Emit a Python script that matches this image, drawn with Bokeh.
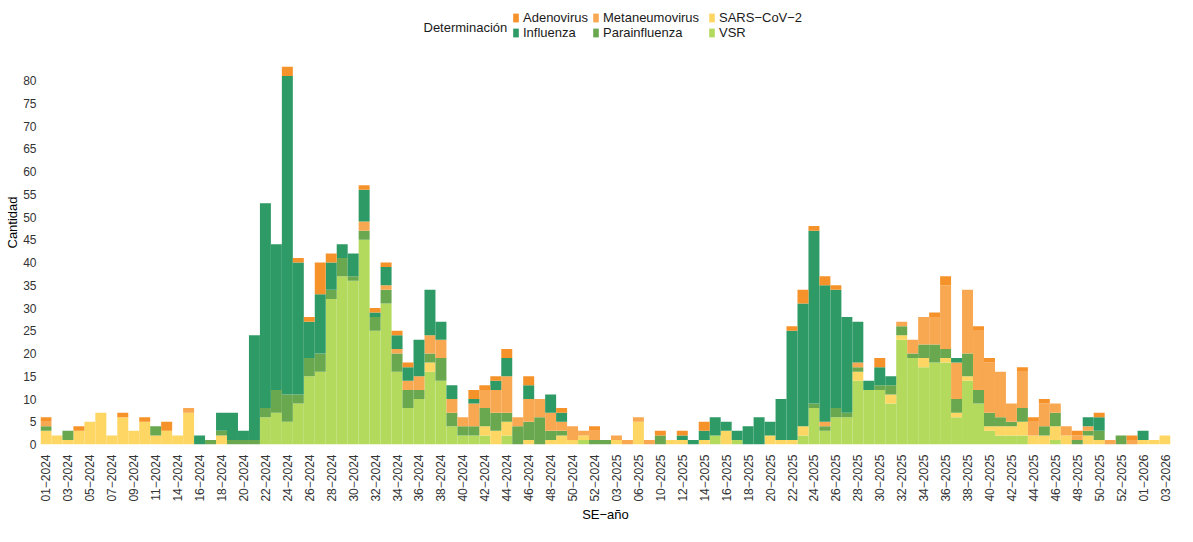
import math
from bokeh.plotting import figure
from bokeh.models import (ColumnDataSource, Legend, LegendItem, Label, FixedTicker,
                          CustomJSTickFormatter, Range1d)
from bokeh.embed import file_html
from bokeh.resources import INLINE

# ---- categories (SE-año) ----
semanas_2024 = [1, 2, 3, 4, 5, 6, 7, 8, 9, 10, 11, 12, 14, 15, 16, 17, 18, 19, 20, 21, 22, 23, 24,
                25, 26, 27, 28, 29, 30, 31, 32, 33, 34, 35, 36, 37, 38, 39, 40, 41, 42, 43, 44, 45,
                46, 47, 48, 49, 50, 51, 52]
semanas_2025 = [1, 3, 4, 6, 8, 10, 11, 12, 13, 14, 15, 16, 17, 18, 19, 20, 21, 22, 23, 24, 25, 26,
                27, 28, 29, 30, 31, 32, 33, 34, 35, 36, 37, 38, 39, 40, 41, 42, 43, 44, 45, 46, 47,
                48, 49, 50, 51, 52, 53]
semanas_2026 = [1, 2, 3]
categorias = ([f"{w:02d}\u22122024" for w in semanas_2024] +
              [f"{w:02d}\u22122025" for w in semanas_2025] +
              [f"{w:02d}\u22122026" for w in semanas_2026])

y_ticks = [0, 5, 10, 15, 20, 25, 30, 35, 40, 45, 50, 55, 60, 65, 70, 75, 80]

# ---- series values ----
vsr = [0, 0, 0, 0, 0, 0, 0, 0, 0, 0,
       0, 0, 0, 0, 0, 0, 0, 0, 0, 0,
       6, 7, 5, 9, 15, 16, 32, 37, 36, 45,
       25, 31, 16, 8, 10, 16, 14, 4, 2, 2,
       2, 0, 2, 0, 0, 0, 0, 0, 0, 1,
       0, 0, 0, 0, 0, 0, 0, 0, 0, 0,
       0, 2, 0, 1, 0, 0, 0, 0, 0, 2,
       8, 3, 6, 6, 14, 12, 12, 9, 23, 19,
       17, 18, 18, 6, 14, 9, 3, 2, 2, 2,
       0, 0, 1, 0, 0, 0, 0, 0, 0, 0,
       0, 0, 0]
sars = [3, 2, 1, 3, 5, 7, 2, 6, 3, 5,
        2, 3, 2, 7, 0, 0, 2, 0, 0, 0,
        0, 0, 0, 0, 0, 0, 0, 0, 0, 0,
        0, 0, 0, 0, 0, 2, 0, 0, 0, 0,
        2, 3, 3, 0, 1, 0, 1, 2, 1, 1,
        0, 0, 1, 0, 5, 0, 0, 1, 1, 0,
        1, 0, 3, 0, 0, 0, 2, 1, 1, 2,
        0, 0, 0, 0, 2, 0, 0, 2, 1, 0,
        2, 0, 1, 1, 1, 0, 1, 2, 2, 3,
        2, 2, 3, 2, 0, 2, 1, 0, 0, 0,
        1, 1, 2]
parainfluenza = [1, 0, 2, 0, 0, 0, 0, 0, 0, 0,
                 2, 0, 0, 0, 0, 1, 1, 1, 1, 1,
                 2, 5, 6, 2, 4, 4, 2, 4, 1, 2,
                 3, 3, 4, 4, 2, 2, 5, 3, 2, 2,
                 4, 4, 2, 4, 4, 6, 2, 1, 0, 0,
                 1, 1, 0, 0, 0, 0, 2, 0, 0, 0,
                 0, 0, 0, 0, 0, 0, 0, 0, 0, 0,
                 1, 1, 2, 1, 1, 0, 1, 2, 2, 1,
                 3, 4, 2, 3, 5, 3, 3, 2, 1, 3,
                 0, 2, 3, 0, 1, 1, 2, 0, 2, 0,
                 0, 0, 0]
metaneumovirus = [1, 0, 0, 0, 0, 0, 0, 0, 0, 0,
                  0, 0, 0, 1, 0, 0, 0, 0, 0, 0,
                  0, 0, 0, 0, 0, 0, 0, 0, 0, 2,
                  0, 1, 1, 2, 3, 4, 4, 3, 2, 5,
                  4, 5, 8, 2, 5, 4, 4, 2, 3, 1,
                  2, 0, 1, 1, 1, 1, 0, 0, 0, 0,
                  0, 0, 0, 0, 0, 0, 0, 0, 0, 0,
                  0, 1, 0, 0, 1, 0, 0, 0, 1, 3,
                  6, 6, 14, 8, 14, 13, 11, 10, 4, 8,
                  3, 5, 2, 2, 1, 1, 0, 1, 0, 1,
                  0, 0, 0]
influenza = [0, 0, 0, 0, 0, 0, 0, 0, 0, 0,
             0, 0, 0, 0, 2, 0, 4, 6, 2, 23,
             45, 32, 70, 29, 8, 13, 6, 3, 5, 7,
             1, 4, 3, 3, 8, 10, 4, 3, 0, 1,
             0, 2, 4, 0, 3, 0, 4, 2, 0, 0,
             0, 0, 0, 0, 0, 0, 0, 0, 1, 1,
             2, 4, 2, 2, 4, 6, 3, 9, 24, 27,
             38, 30, 26, 21, 9, 2, 4, 2, 0, 0,
             0, 0, 0, 1, 0, 0, 0, 0, 0, 0,
             0, 0, 0, 0, 0, 2, 3, 0, 0, 0,
             2, 0, 0]
adenovirus = [1, 0, 0, 1, 0, 0, 0, 1, 0, 1,
              0, 2, 0, 0, 0, 0, 0, 0, 0, 0,
              0, 0, 2, 1, 1, 7, 2, 0, 0, 1,
              1, 1, 1, 1, 0, 0, 0, 0, 0, 2,
              1, 1, 2, 0, 2, 0, 0, 1, 0, 0,
              1, 0, 0, 0, 0, 0, 1, 0, 1, 0,
              2, 0, 0, 0, 0, 0, 0, 0, 1, 3,
              1, 2, 1, 0, 0, 0, 2, 0, 0, 0,
              0, 1, 2, 0, 0, 1, 1, 0, 0, 1,
              1, 1, 0, 0, 1, 0, 1, 0, 0, 1,
              0, 0, 0]

# stacking order bottom -> top
series_names = ["VSR", "SARS\u2212CoV\u22122", "Parainfluenza", "Metaneumovirus", "Influenza", "Adenovirus"]
series_values = [vsr, sars, parainfluenza, metaneumovirus, influenza, adenovirus]
series_colors = ["#B3DA5D", "#FED663", "#69A84F", "#F8A851", "#2E9A66", "#F6922A"]
legend_columns = [["Adenovirus", "Influenza"],
                  ["Metaneumovirus", "Parainfluenza"],
                  ["SARS\u2212CoV\u22122", "VSR"]]

n = len(categorias)
data = {"x": list(range(n))}
keys = [f"s{k}" for k in range(len(series_names))]
for k, vals in zip(keys, series_values):
    data[k] = vals
source = ColumnDataSource(data)

FONT = "Liberation Sans"
W, H = 1177, 526
B_LEFT, B_RIGHT, B_TOP, B_BOTTOM = 40, 7, 0, 82
FH = H - B_TOP - B_BOTTOM          # frame height (frame reaches the top so the legend is not clipped)
PX_PER_UNIT = (FH - 80) / 80.0     # value 80 sits at y = 80 px
Y_END = FH / PX_PER_UNIT

p = figure(width=W, height=H, output_backend="svg", toolbar_location=None,
           x_range=Range1d(-0.5, n - 0.5), y_range=Range1d(0, Y_END),
           min_border_left=B_LEFT, min_border_right=B_RIGHT,
           min_border_top=B_TOP, min_border_bottom=B_BOTTOM)
p.outline_line_color = None
p.xgrid.grid_line_color = None
p.ygrid.grid_line_color = None

renderers = p.vbar_stack(keys, x="x", width=1.0, source=source,
                         fill_color=series_colors, line_color=None)

# axes
p.xaxis.ticker = FixedTicker(ticks=list(range(0, n, 2)))
p.xaxis.formatter = CustomJSTickFormatter(args=dict(etiquetas=categorias),
                                          code="const i = Math.round(tick); return etiquetas[i] || '';")
p.xaxis.major_label_orientation = math.pi / 2
p.yaxis.ticker = FixedTicker(ticks=y_ticks)
p.xaxis.axis_label = "SE\u2212año"
p.yaxis.axis_label = "Cantidad"
for ax in (p.xaxis[0], p.yaxis[0]):
    ax.axis_line_color = None
    ax.major_tick_line_color = None
    ax.minor_tick_line_color = None
    ax.major_tick_out = 0
    ax.major_tick_in = 0
    ax.minor_tick_out = 0
    ax.minor_tick_in = 0
    ax.major_label_text_font = FONT
    ax.major_label_text_font_size = "12px"
    ax.major_label_text_color = "#333333"
    ax.axis_label_text_font = FONT
    ax.axis_label_text_font_size = "13px"
    ax.axis_label_text_font_style = "normal"
    ax.axis_label_text_color = "#000000"
p.xaxis.major_label_standoff = 10
p.xaxis.axis_label_standoff = 2
p.yaxis.major_label_standoff = 4
p.yaxis.axis_label_standoff = 0

# legend: one small legend per column (inside the tall frame, above the bars)
name_to_r = dict(zip(series_names, renderers))
col_x = [472, 552, 668]
for cx, col in zip(col_x, legend_columns):
    lg = Legend(items=[LegendItem(label=nm, renderers=[name_to_r[nm]]) for nm in col],
                orientation="vertical", location=(cx, FH - 40),
                label_text_font=FONT, label_text_font_size="13px", label_text_color="#1A1A1A",
                glyph_width=7, glyph_height=11, label_standoff=4, label_height=13,
                spacing=0, padding=0, margin=0,
                border_line_color=None, background_fill_alpha=0)
    p.add_layout(lg, "center")

p.add_layout(Label(x=383, y=FH - 26.5, x_units="screen", y_units="screen",
                   text="Determinación", text_font=FONT, text_font_size="13px",
                   text_baseline="middle", text_align="left", text_color="#1A1A1A"))

open("out.html", "w").write(file_html(p, INLINE))
